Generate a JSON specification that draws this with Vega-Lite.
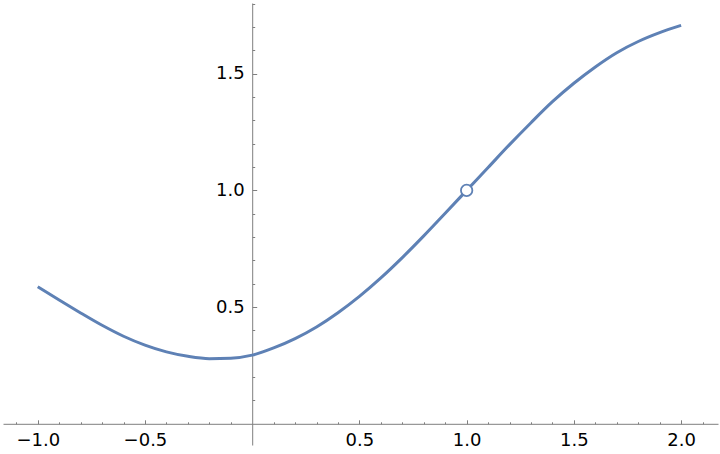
{
  "$schema": "https://vega.github.io/schema/vega-lite/v6.json",
  "width": 715,
  "height": 442,
  "padding": {"left": 3, "top": 3, "right": 2, "bottom": 9},
  "autosize": {"type": "none"},
  "background": "white",
  "config": {"view": {"stroke": null}, "axis": {"grid": false, "labelFont": "DejaVu Sans", "labelFontSize": 18, "labelColor": "black", "domainColor": "#7f7f7f", "tickColor": "#7f7f7f", "domainWidth": 1, "tickWidth": 1, "title": null}},
  "datasets": {
    "curve": [
      {"x": -1.0, "y": 0.587}, {"x": -0.9, "y": 0.530}, {"x": -0.8, "y": 0.475},
      {"x": -0.7, "y": 0.422}, {"x": -0.6, "y": 0.375}, {"x": -0.5, "y": 0.337},
      {"x": -0.4, "y": 0.308}, {"x": -0.3, "y": 0.289}, {"x": -0.2, "y": 0.279},
      {"x": -0.1, "y": 0.281}, {"x": 0.0, "y": 0.294}, {"x": 0.1, "y": 0.325},
      {"x": 0.2, "y": 0.365}, {"x": 0.3, "y": 0.415}, {"x": 0.4, "y": 0.476},
      {"x": 0.5, "y": 0.546}, {"x": 0.6, "y": 0.625}, {"x": 0.7, "y": 0.712},
      {"x": 0.8, "y": 0.805}, {"x": 0.9, "y": 0.902}, {"x": 1.0, "y": 1.0},
      {"x": 1.1, "y": 1.098}, {"x": 1.2, "y": 1.196}, {"x": 1.3, "y": 1.290},
      {"x": 1.4, "y": 1.380}, {"x": 1.5, "y": 1.459}, {"x": 1.6, "y": 1.529},
      {"x": 1.7, "y": 1.590}, {"x": 1.8, "y": 1.638}, {"x": 1.9, "y": 1.676},
      {"x": 2.0, "y": 1.707}
    ],
    "hole": [{"x": 1.0, "y": 1.0}]
  },
  "resolve": {"axis": {"x": "independent", "y": "independent"}},
  "layer": [
    {
      "data": {"name": "curve"},
      "mark": {"type": "line", "color": "#5E81B5", "strokeWidth": 3, "interpolate": "monotone"},
      "encoding": {
        "x": {"field": "x", "type": "quantitative", "scale": {"domain": [-1.162, 2.172], "nice": false, "zero": false},
          "axis": {"orient": "bottom", "offset": -21.2, "values": [-1.0, -0.5, 0.5, 1.0, 1.5, 2.0], "format": ".1f", "tickSize": -4, "labelPadding": 12, "labelBaseline": "top", "labelFlush": false}},
        "y": {"field": "y", "type": "quantitative", "scale": {"domain": [-0.091, 1.803], "nice": false, "zero": false},
          "axis": {"orient": "left", "offset": -249.2, "values": [0.5, 1.0, 1.5], "format": ".1f", "tickSize": -4.5, "labelPadding": 12.5, "labelFlush": false}}
      }
    },
    {
      "data": {"name": "curve"},
      "mark": {"type": "line", "opacity": 0},
      "encoding": {
        "x": {"field": "x", "type": "quantitative", "scale": {"domain": [-1.162, 2.172], "nice": false, "zero": false},
          "axis": {"orient": "bottom", "offset": -21.2, "values": [-1.1, -0.9, -0.8, -0.7, -0.6, -0.4, -0.3, -0.2, -0.1, 0.1, 0.2, 0.3, 0.4, 0.6, 0.7, 0.8, 0.9, 1.1, 1.2, 1.3, 1.4, 1.6, 1.7, 1.8, 1.9, 2.1], "labels": false, "domain": false, "tickSize": -2}},
        "y": {"field": "y", "type": "quantitative", "scale": {"domain": [-0.091, 1.803], "nice": false, "zero": false},
          "axis": {"orient": "left", "offset": -249.2, "values": [0.1, 0.2, 0.3, 0.4, 0.6, 0.7, 0.8, 0.9, 1.1, 1.2, 1.3, 1.4, 1.6, 1.7, 1.8], "labels": false, "domain": false, "tickSize": -2.5}}
      }
    },
    {
      "data": {"name": "hole"},
      "mark": {"type": "point", "filled": true, "fill": "white", "stroke": "#5E81B5", "strokeWidth": 1.8, "size": 130, "opacity": 1},
      "encoding": {
        "x": {"field": "x", "type": "quantitative", "axis": null},
        "y": {"field": "y", "type": "quantitative", "axis": null}
      }
    }
  ]
}
